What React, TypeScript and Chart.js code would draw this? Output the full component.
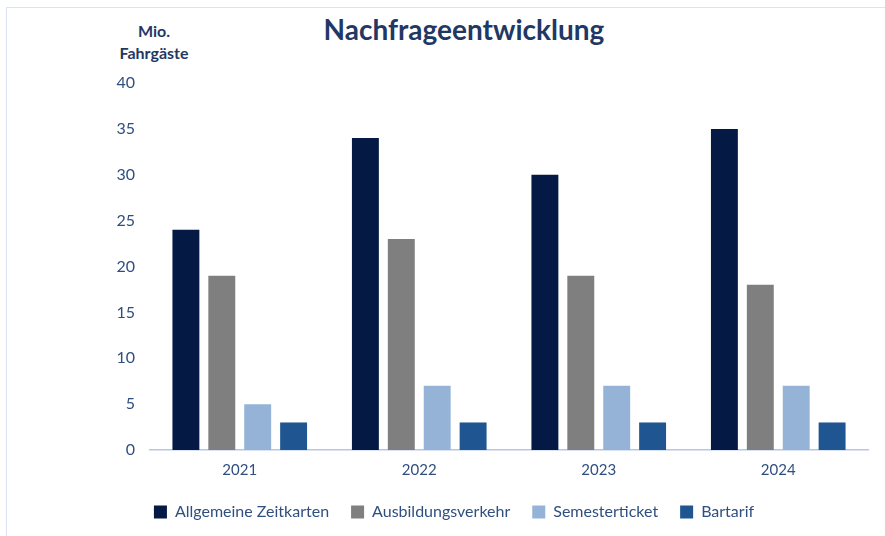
import React, { useEffect, useRef } from "react";
import { Chart, registerables } from "chart.js";

Chart.register(...registerables);

const categories = ["2021", "2022", "2023", "2024"];
const seriesNames = ["Allgemeine Zeitkarten", "Ausbildungsverkehr", "Semesterticket", "Bartarif"];
const allgemeineZeitkarten = [24, 34, 30, 35];
const ausbildungsverkehr = [19, 23, 19, 18];
const semesterticket = [5, 7, 7, 7];
const bartarif = [3, 3, 3, 3];
const seriesColors = ["#041a45", "#7f7f7f", "#95b3d7", "#1f5591"];
const yMin = 0;
const yMax = 40;
const yStep = 5;

const FONT = "Lato, 'Noto Sans', sans-serif";
const TEXT_COLOR = "#2f4f80";

const legendShift = {
  id: "legendShift",
  afterLayout(chart: any) {
    const lg = chart.legend;
    if (!lg) return;
    const dx = 20;
    const dy = -8;
    lg.left += dx;
    lg.right += dx;
    lg.top += dy;
    lg.bottom += dy;
  },
};

export default function App() {
  const ref = useRef<HTMLCanvasElement | null>(null);

  useEffect(() => {
    if (!ref.current) return;
    const values = [allgemeineZeitkarten, ausbildungsverkehr, semesterticket, bartarif];
    const chart = new Chart(ref.current, {
      type: "bar",
      data: {
        labels: categories,
        datasets: seriesNames.map((name, i) => ({
          label: name,
          data: values[i],
          backgroundColor: seriesColors[i],
          borderWidth: 0,
          categoryPercentage: 0.8,
          barPercentage: 0.75,
        })),
      },
      options: {
        animation: false,
        responsive: false,
        maintainAspectRatio: false,
        layout: { padding: { top: 83, right: 17, bottom: -2, left: 0 } },
        plugins: {
          title: { display: false },
          tooltip: { enabled: false },
          legend: {
            position: "bottom",
            labels: {
              boxWidth: 13,
              boxHeight: 13,
              padding: 22,
              color: TEXT_COLOR,
              font: { family: FONT, size: 16 },
            },
          },
        },
        scales: {
          x: {
            grid: { display: false, drawTicks: false },
            border: { display: true, color: "#b4c7e7", width: 1.5 },
            ticks: {
              padding: 11,
              color: TEXT_COLOR,
              font: { family: FONT, size: 15 },
            },
          },
          y: {
            min: yMin,
            max: yMax,
            grid: { display: false, drawTicks: false },
            border: { display: false },
            ticks: {
              stepSize: yStep,
              padding: 15,
              color: TEXT_COLOR,
              font: { family: FONT, size: 16 },
            },
            afterFit: (scale: any) => {
              scale.width = 150;
            },
          },
        },
      },
      plugins: [legendShift],
    });
    return () => chart.destroy();
  }, []);

  return (
    <div style={{ position: "fixed", left: 0, top: 0, width: 885, height: 536, background: "#ffffff", overflow: "hidden" }}>
      <div style={{ position: "absolute", left: 6, top: 7, right: -2, bottom: -2, borderTop: "1.5px solid #dae3f3", borderLeft: "1.5px solid #dae3f3" }} />
      <div
        style={{
          position: "absolute",
          left: 264,
          top: 11,
          width: 400,
          textAlign: "center",
          fontFamily: FONT,
          fontWeight: 700,
          fontSize: 28,
          color: "#1f3864",
          lineHeight: "36px",
        }}
      >
        Nachfrageentwicklung
      </div>
      <div
        style={{
          position: "absolute",
          left: 104,
          top: 20,
          width: 100,
          textAlign: "center",
          fontFamily: FONT,
          fontWeight: 700,
          fontSize: 16,
          color: "#1f3864",
          lineHeight: "22px",
        }}
      >
        Mio.
        <br />
        Fahrgäste
      </div>
      <canvas ref={ref} width={885} height={536} style={{ position: "absolute", left: 0, top: 0 }} />
    </div>
  );
}
